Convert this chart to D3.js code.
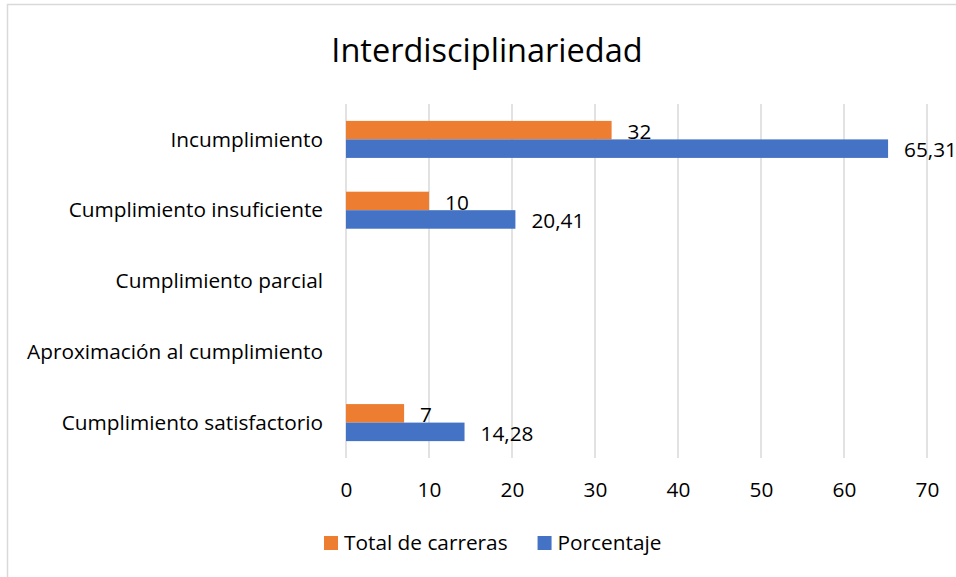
<!DOCTYPE html>
<html>
<head>
<meta charset="utf-8">
<script src="https://cdn.jsdelivr.net/npm/d3@7"></script>
<style>
  body { margin: 0; background: #fff; }
  text { font-family: "Open Sans", sans-serif; fill: #000; }
</style>
</head>
<body>
<div id="wrapper"></div>
<script>
// data
const categories = ["Incumplimiento", "Cumplimiento insuficiente", "Cumplimiento parcial",
    "Aproximación al cumplimiento", "Cumplimiento satisfactorio"];
const seriesNames = ["Total de carreras", "Porcentaje"];
const totalCarreras = [32, 10, null, null, 7];
const porcentaje = [65.31, 20.41, null, null, 14.28];
const porcentajeLabels = ["65,31", "20,41", null, null, "14,28"];
const xTicks = [0, 10, 20, 30, 40, 50, 60, 70];
const colors = ["#ED7D31", "#4472C4"];

const dimension = { width: 956, height: 577 };
const labelSize = "20.8px";

const svg = d3.select("#wrapper").append("svg")
    .attr("width", dimension.width)
    .attr("height", dimension.height);

// chart area border
svg.append("rect")
    .attr("x", 7.5).attr("y", 4.5)
    .attr("width", 960).attr("height", 590)
    .attr("fill", "none")
    .attr("stroke", "#d9d9d9")
    .attr("stroke-width", 1.5);

svg.append("text")
    .attr("x", 487).attr("y", 51)
    .attr("dy", "0.35em")
    .attr("text-anchor", "middle")
    .style("font-size", "32.5px")
    .text("Interdisciplinariedad");

const xScaler = d3.scaleLinear().domain([0, 70]).range([346, 927]);

const yScaler = d3.scaleBand()
    .domain(categories)
    .range([104, 458])
    .paddingInner(0.477)
    .paddingOuter(0.2385);

const subScaler = d3.scaleBand()
    .domain(seriesNames)
    .range([0, yScaler.bandwidth()]);

// gridlines
svg.append("g").selectAll("line")
    .data(xTicks)
    .join("line")
    .attr("x1", d => xScaler(d)).attr("x2", d => xScaler(d))
    .attr("y1", 104).attr("y2", 458)
    .attr("stroke", "#d9d9d9")
    .attr("stroke-width", 1.5);

// x axis (labels only)
const xAxis = d3.axisBottom(xScaler).tickValues(xTicks).tickSize(0).tickPadding(0);
const gx = svg.append("g").attr("transform", "translate(0,482)").call(xAxis);
gx.select(".domain").remove();
gx.selectAll("text")
    .style("font-size", labelSize)
    .style("font-family", "'Open Sans', sans-serif")
    .attr("fill", "#000");

// y axis (labels only)
const yAxis = d3.axisLeft(yScaler).tickSize(0).tickPadding(0);
const gy = svg.append("g").attr("transform", "translate(323,0)").call(yAxis);
gy.select(".domain").remove();
gy.selectAll("text")
    .attr("dy", "0.35em")
    .style("font-size", labelSize)
    .style("font-family", "'Open Sans', sans-serif")
    .attr("fill", "#000");

const rows = categories.map((c, i) => ({
    cat: c,
    values: [
        { name: seriesNames[0], v: totalCarreras[i], label: totalCarreras[i] == null ? null : String(totalCarreras[i]) },
        { name: seriesNames[1], v: porcentaje[i], label: porcentajeLabels[i] }
    ]
}));

const groups = svg.append("g").selectAll("g")
    .data(rows)
    .join("g")
    .attr("transform", d => `translate(0,${yScaler(d.cat)})`);

groups.selectAll("rect")
    .data(d => d.values.filter(v => v.v != null))
    .join("rect")
    .attr("x", xScaler(0))
    .attr("y", d => subScaler(d.name))
    .attr("width", d => xScaler(d.v) - xScaler(0))
    .attr("height", subScaler.bandwidth())
    .attr("fill", d => colors[seriesNames.indexOf(d.name)]);

groups.selectAll("text")
    .data(d => d.values.filter(v => v.v != null))
    .join("text")
    .attr("x", d => xScaler(d.v) + 16)
    .attr("y", d => subScaler(d.name) + subScaler.bandwidth() / 2 + 1.5)
    .attr("dy", "0.35em")
    .style("font-size", labelSize)
    .text(d => d.label);

// legend
const legend = svg.append("g").attr("transform", "translate(324,543)");
let lx = 0;
seriesNames.forEach((name, i) => {
    const item = legend.append("g").attr("transform", `translate(${lx},0)`);
    item.append("rect")
        .attr("x", 0).attr("y", -7)
        .attr("width", 14).attr("height", 14)
        .attr("fill", colors[i]);
    const t = item.append("text")
        .attr("x", 20).attr("y", 0)
        .attr("dy", "0.35em")
        .style("font-size", labelSize)
        .text(name);
    lx += 20 + t.node().getComputedTextLength() + 30;
});
</script>
</body>
</html>
